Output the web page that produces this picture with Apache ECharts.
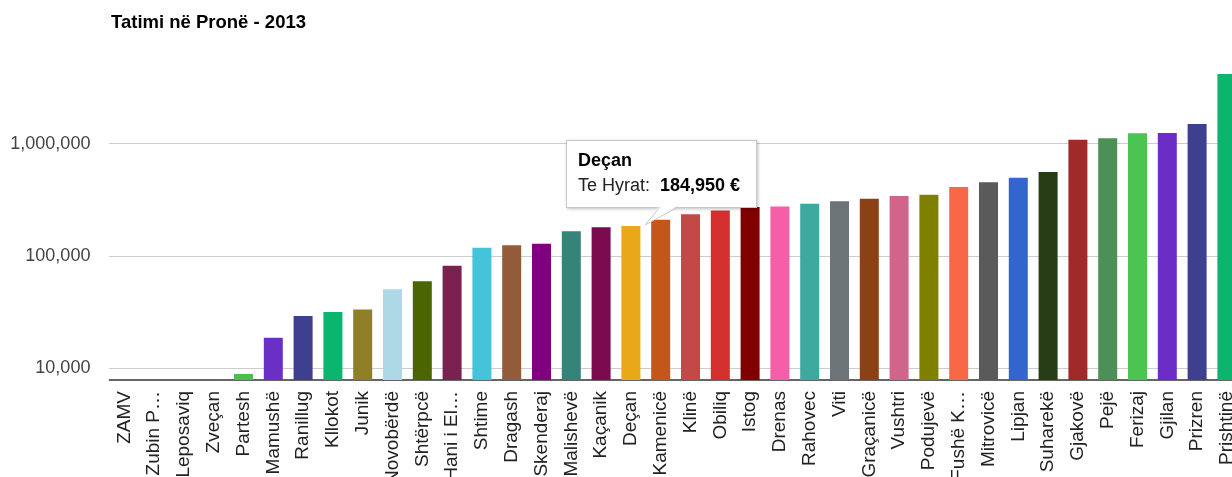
<!DOCTYPE html>
<html>
<head>
<meta charset="utf-8">
<script src="https://cdn.jsdelivr.net/npm/echarts@6/dist/echarts.min.js"></script>
<style>
  html, body { margin: 0; padding: 0; background: #fff; }
  #chart { width: 1232px; height: 477px; }
</style>
</head>
<body>
<div id="chart"></div>
<script>
  // komunat (labels as shown on the axis)
  const categories = ['ZAMV', 'Zubin P…', 'Leposaviq', 'Zveçan', 'Partesh', 'Mamushë', 'Ranillug', 'Kllokot',
    'Junik', 'Novobërdë', 'Shtërpcë', 'Hani i El…', 'Shtime', 'Dragash', 'Skenderaj', 'Malishevë',
    'Kaçanik', 'Deçan', 'Kamenicë', 'Klinë', 'Obiliq', 'Istog', 'Drenas', 'Rahovec', 'Viti',
    'Graçanicë', 'Vushtri', 'Podujevë', 'Fushë K…', 'Mitrovicë', 'Lipjan', 'Suharekë', 'Gjakovë',
    'Pejë', 'Ferizaj', 'Gjilan', 'Prizren', 'Prishtinë'];

  // Te Hyrat (€)
  const revenue = [null, null, null, null, 8900, 18700, 29200, 31700,
    33300, 50500, 59600, 82000, 118600, 124500, 128800, 166000,
    180000, 184950, 210400, 235000, 254000, 273000, 276000, 292000, 307000,
    323500, 342000, 351500, 411000, 453000, 498000, 560000, 1086000,
    1117000, 1240000, 1245000, 1497000, 4180000];

  const barColors = ['#999999', '#999999', '#999999', '#999999', '#4bbf4b', '#6a2fc5', '#3f3f8f', '#0bb56e',
    '#8f8028', '#add8e6', '#4b6600', '#7b2150', '#44c3db', '#925b3a', '#800080', '#338479',
    '#7b0a4f', '#e8a817', '#c4561a', '#c44848', '#d32f2f', '#800000', '#f65ea8', '#3ea99f', '#6d7478',
    '#8b4015', '#d0648a', '#808000', '#f96846', '#5a5a5a', '#3366cc', '#263d16', '#a0292a',
    '#4d9057', '#4cc452', '#6c2dc7', '#3f3f8f', '#0bb56e'];

  const yTicks = [10000, 100000, 1000000];
  const highlighted = 17;

  const chart = echarts.init(document.getElementById('chart'));
  const font = '"Liberation Sans", Arial, sans-serif';

  const option = {
    animation: false,
    title: {
      text: 'Tatimi në Pronë - 2013',
      left: 111,
      top: 13,
      padding: 0,
      textStyle: { fontFamily: font, fontSize: 18.5, fontWeight: 'bold', color: '#000' }
    },
    grid: {
      left: 109.4, top: 31.4, width: 1132.4, height: 348.6,
      containLabel: false,
      outerBoundsMode: 'none'
    },
    tooltip: {
      trigger: 'item',
      triggerOn: 'none',
      alwaysShowContent: true,
      transitionDuration: 0,
      padding: 0,
      borderWidth: 0,
      backgroundColor: 'transparent',
      extraCssText: 'box-shadow:none;overflow:visible;',
      position: function () { return [566, 140]; },
      formatter: function (p) {
        const v = p.value.toLocaleString('en-US');
        return '<div style="position:relative;width:189px;height:66px;background:#fff;border:1px solid #c8c8c8;' +
          'box-shadow:1px 1px 3px rgba(0,0,0,0.25);font-family:' + font.replace(/"/g, "'") + ';">' +
          '<div style="position:absolute;left:11px;top:9px;font-size:18px;font-weight:bold;color:#000;">' + p.name + '</div>' +
          '<div style="position:absolute;left:11px;top:34px;font-size:18px;color:#222;">Te Hyrat: &nbsp;<b style="color:#000">' + v + ' €</b></div>' +
          '<svg style="position:absolute;left:77px;top:66px;overflow:visible" width="36" height="20">' +
          '<polygon points="16,-2 35,-2 1,18" fill="#fff" stroke="none"/>' +
          '<polyline points="16,0 1,18 34,0" fill="none" stroke="#c8c8c8" stroke-width="1"/>' +
          '</svg></div>';
      }
    },
    xAxis: {
      type: 'category',
      data: categories,
      boundaryGap: true,
      axisTick: { show: false },
      axisLine: { lineStyle: { color: '#333', width: 1.5 } },
      axisLabel: {
        interval: 0,
        rotate: 90,
        margin: 11,
        fontFamily: font,
        fontSize: 19,
        color: '#222'
      }
    },
    yAxis: {
      type: 'log',
      logBase: 10,
      min: 7866,
      max: 10000000,
      axisLine: { show: false },
      axisTick: { show: false },
      splitLine: { show: true, showMinLine: false, showMaxLine: false, lineStyle: { color: '#cccccc', width: 1 } },
      axisLabel: {
        showMinLabel: false,
        showMaxLabel: false,
        margin: 19,
        fontFamily: font,
        fontSize: 18,
        color: '#444',
        formatter: function (v) {
          return yTicks.indexOf(Math.round(v)) >= 0 ? Math.round(v).toLocaleString('en-US') : '';
        }
      }
    },
    series: [{
      type: 'bar',
      name: 'Te Hyrat',
      barWidth: 19,
      data: revenue.map((v, i) => ({
        value: v === null ? '-' : v,
        itemStyle: { color: barColors[i] }
      }))
    }]
  };

  chart.setOption(option);
  chart.dispatchAction({ type: 'showTip', seriesIndex: 0, dataIndex: highlighted });
</script>
</body>
</html>
